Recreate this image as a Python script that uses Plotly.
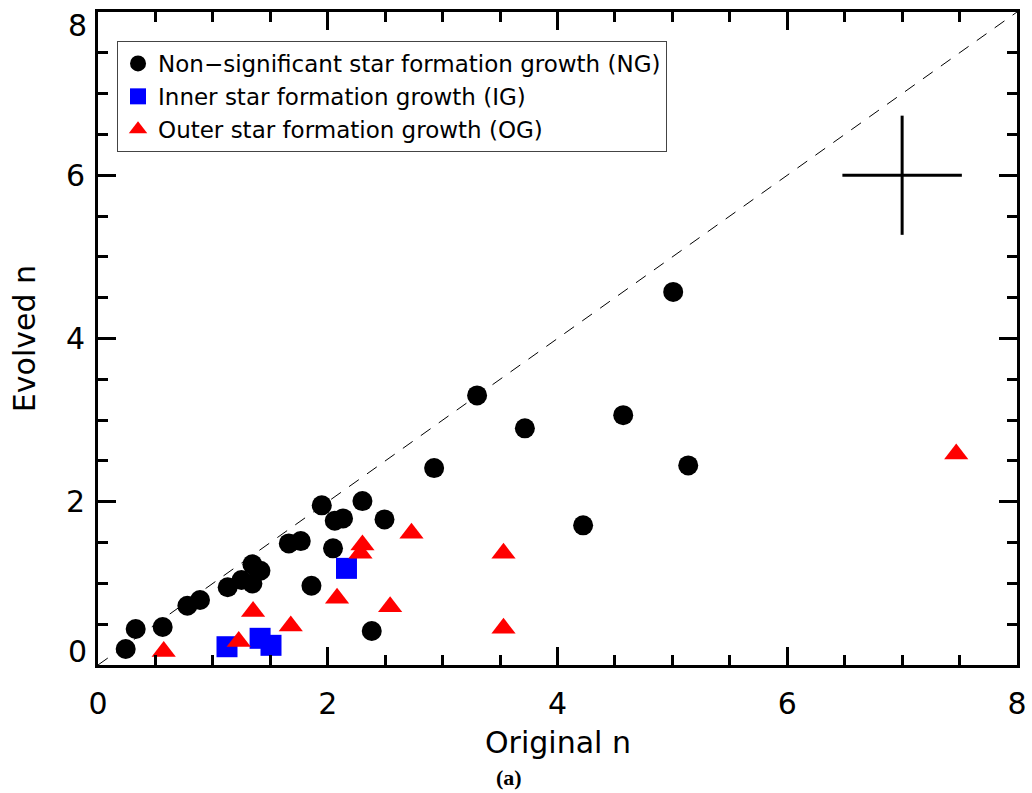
import plotly.graph_objects as go

# Non-significant star formation growth (NG)
ng_x = [0.241, 0.328, 0.563, 0.778, 0.888, 1.129, 1.249, 1.344, 1.344, 1.414,
        1.661, 1.765, 1.858, 1.948, 2.061, 2.133, 2.046, 2.302, 2.494, 2.383,
        2.926, 3.300, 3.716, 4.223, 4.572, 5.007, 5.138]
ng_y = [0.196, 0.441, 0.465, 0.726, 0.796, 0.952, 1.041, 1.233, 1.000, 1.155,
        1.490, 1.518, 0.971, 1.956, 1.767, 1.796, 1.429, 2.008, 1.784, 0.416,
        2.412, 3.303, 2.899, 1.711, 3.061, 4.571, 2.445]

# Inner star formation growth (IG)
ig_x = [1.123, 1.411, 1.506, 2.163]
ig_y = [0.224, 0.327, 0.241, 1.184]

# Outer star formation growth (OG)
og_x = [0.572, 1.225, 1.350, 1.678, 2.081, 2.302, 2.285, 2.543, 2.729, 3.530, 3.530, 7.471]
og_y = [0.164, 0.287, 0.654, 0.478, 0.817, 1.470, 1.368, 0.715, 1.613, 1.368, 0.449, 2.584]

# one-to-one line and typical error cross
line_x = [0, 8]
line_y = [0, 8]
err_x = [7.0]
err_y = [6.0]
err_dx = [0.52]
err_dy = [0.73]

x_tick_vals = [0, 2, 4, 6, 8]
x_tick_text = ["0", "2", "4", "6", "8"]
y_tick_vals = [0, 2, 4, 6, 8]
y_tick_text = ["0", "2", "4", "6", "8"]

FONT = "DejaVu Sans"

fig = go.Figure()

fig.add_trace(go.Scatter(x=line_x, y=line_y, mode="lines",
                         line=dict(color="black", width=1, dash="12px,10px"),
                         showlegend=False, hoverinfo="skip"))

fig.add_trace(go.Scatter(x=err_x, y=err_y, mode="markers",
                         marker=dict(size=1, color="rgba(0,0,0,0)"),
                         error_x=dict(type="data", array=err_dx, width=0, thickness=3, color="black"),
                         error_y=dict(type="data", array=err_dy, width=0, thickness=3, color="black"),
                         showlegend=False, hoverinfo="skip"))

fig.add_trace(go.Scatter(x=ng_x, y=ng_y, mode="markers",
                         name="Non\u2212significant star formation growth (NG)",
                         marker=dict(symbol="circle", size=20, color="black", line=dict(width=0))))
fig.add_trace(go.Scatter(x=ig_x, y=ig_y, mode="markers",
                         name="Inner star formation growth (IG)",
                         marker=dict(symbol="square", size=21, color="#0000ff", line=dict(width=0))))
fig.add_trace(go.Scatter(x=og_x, y=og_y, mode="markers",
                         name="Outer star formation growth (OG)",
                         marker=dict(symbol="triangle-up", size=21, color="#ff0000", line=dict(width=0))))

axis_common = dict(
    range=[0, 8], showgrid=False, zeroline=False, automargin=False,
    showline=True, linecolor="black", linewidth=3, mirror="allticks",
    ticks="inside", ticklen=18, tickwidth=3, tickcolor="black",
    tickfont=dict(family=FONT, size=30, color="black"),
    minor=dict(dtick=0.5, ticks="inside", ticklen=10, tickwidth=3, tickcolor="black"),
)

# y-axis: end labels (first/last) are placed inside the axis span, as in the reference
y_inner_text = [t if 0 < i < len(y_tick_text) - 1 else "" for i, t in enumerate(y_tick_text)]

annotations = [
    dict(text="Original n", x=0.5, y=-0.1194, xref="paper", yref="paper",
         xanchor="center", yanchor="middle", showarrow=False,
         font=dict(family=FONT, size=30, color="black")),
    dict(text="Evolved n", x=-0.0798, y=0.5, xref="paper", yref="paper",
         xanchor="center", yanchor="middle", showarrow=False, textangle=-90,
         font=dict(family=FONT, size=30, color="black")),
    dict(text="<b>(a)</b>", x=0.447, y=-0.173, xref="paper", yref="paper",
         xanchor="center", yanchor="middle", showarrow=False,
         font=dict(family="Liberation Serif", size=22, color="black")),
    dict(text=y_tick_text[0], x=0, y=y_tick_vals[0], xref="paper", yref="y",
         xanchor="right", yanchor="bottom", xshift=-9, yshift=-6, showarrow=False,
         font=dict(family=FONT, size=30, color="black")),
    dict(text=y_tick_text[-1], x=0, y=y_tick_vals[-1], xref="paper", yref="y",
         xanchor="right", yanchor="top", xshift=-9, yshift=6, showarrow=False,
         font=dict(family=FONT, size=30, color="black")),
]

fig.update_layout(
    width=1032, height=793,
    margin=dict(l=98, r=15, t=12, b=128),
    paper_bgcolor="white", plot_bgcolor="white",
    xaxis=dict(**axis_common, tickvals=x_tick_vals, ticktext=x_tick_text,
               ticklabelstandoff=10, ticklabeloverflow="allow"),
    yaxis=dict(**axis_common, tickvals=y_tick_vals, ticktext=y_inner_text,
               ticklabelstandoff=4),
    showlegend=True,
    legend=dict(x=0.0207, y=0.9556, xanchor="left", yanchor="top",
                bgcolor="white", bordercolor="#444444", borderwidth=1,
                font=dict(family=FONT, size=23, color="black"),
                tracegroupgap=0, itemwidth=30),
    annotations=annotations,
)

fig.write_html("out.html",
               config={"displayModeBar": False},
               post_script="document.body.style.margin='0';document.body.style.padding='0';document.body.style.overflow='hidden';")
